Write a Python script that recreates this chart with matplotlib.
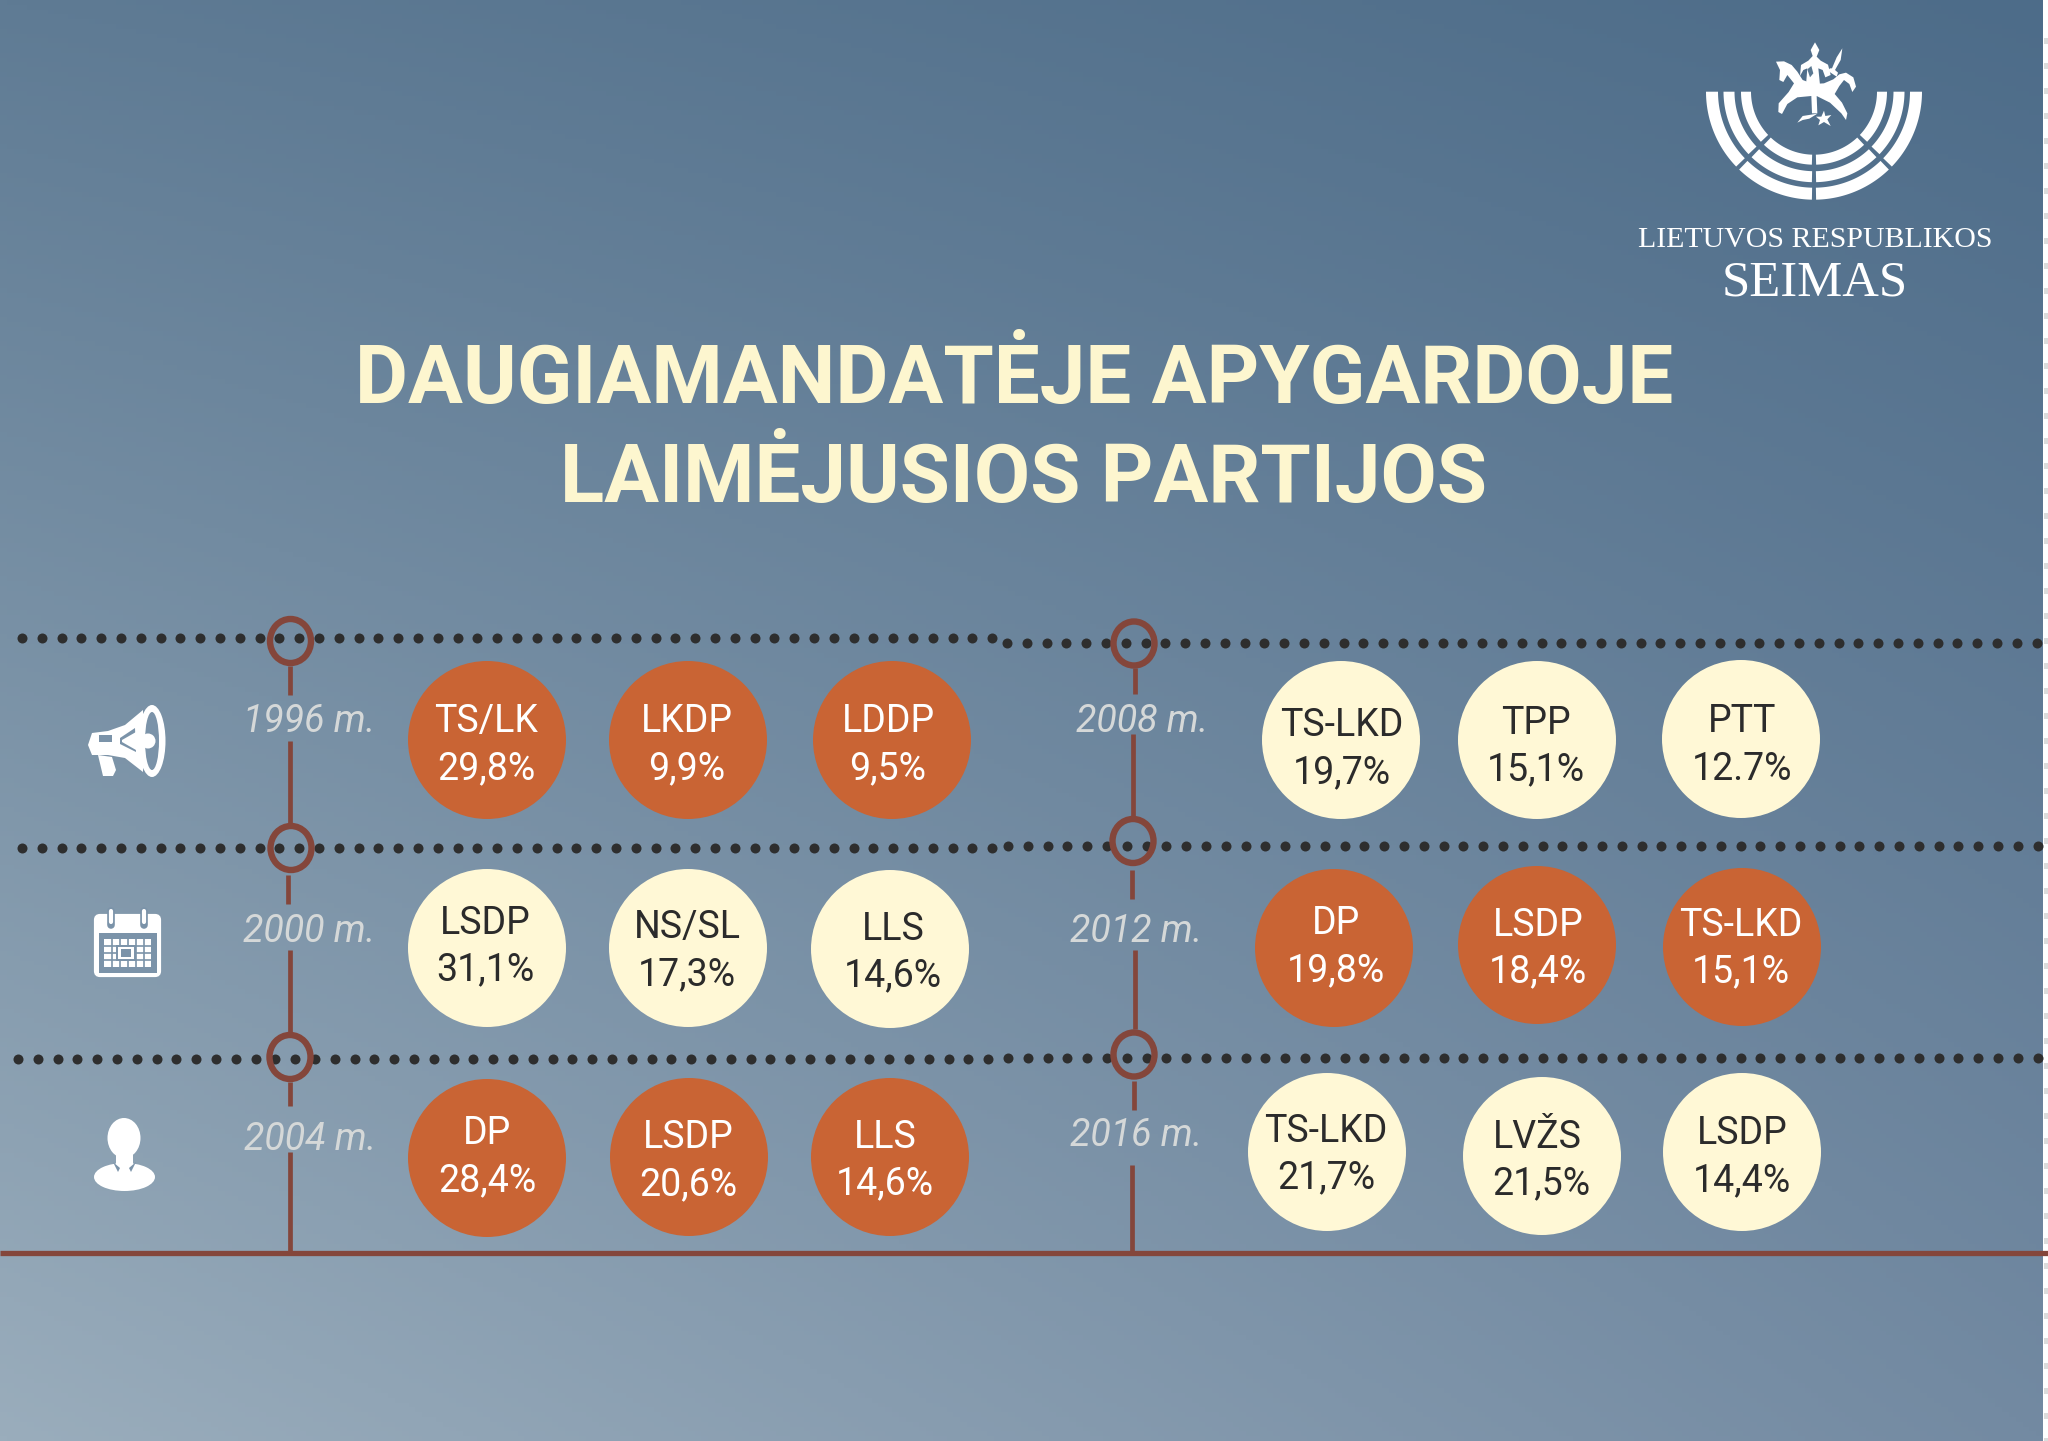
#daugiamandatės apygardos - laimėjusios partijos
import numpy as np
import matplotlib
matplotlib.use('Agg')
import matplotlib.pyplot as plt
from matplotlib.patches import Circle, Ellipse, Polygon, Rectangle, FancyBboxPatch

# duomenys
years = ['1996 m.', '2000 m.', '2004 m.', '2008 m.', '2012 m.', '2016 m.']
parties_1996 = ['TS/LK', 'LKDP', 'LDDP']
parties_2000 = ['LSDP', 'NS/SL', 'LLS']
parties_2004 = ['DP', 'LSDP', 'LLS']
parties_2008 = ['TS-LKD', 'TPP', 'PTT']
parties_2012 = ['DP', 'LSDP', 'TS-LKD']
parties_2016 = ['TS-LKD', 'LVŽS', 'LSDP']
shares_1996 = ['29,8%', '9,9%', '9,5%']
shares_2000 = ['31,1%', '17,3%', '14,6%']
shares_2004 = ['28,4%', '20,6%', '14,6%']
shares_2008 = ['19,7%', '15,1%', '12.7%']
shares_2012 = ['19,8%', '18,4%', '15,1%']
shares_2016 = ['21,7%', '21,5%', '14,4%']

parties = [parties_1996, parties_2000, parties_2004, parties_2008, parties_2012, parties_2016]
shares = [shares_1996, shares_2000, shares_2004, shares_2008, shares_2012, shares_2016]

# išdėstymas (pikseliai)
bubble_x = [[487, 688, 892], [487, 688, 890], [487, 689, 890],
            [1341, 1537, 1741], [1334, 1537, 1742], [1327, 1542, 1742]]
bubble_y = [[740, 740, 740], [948, 948, 949], [1158, 1157, 1157],
            [740, 740, 739], [948, 945, 947], [1152, 1156, 1152]]
label_x = [[486, 687, 888], [485, 687, 893], [487, 688, 885],
           [1342, 1536, 1742], [1336, 1538, 1741], [1326, 1537, 1742]]
share_x = [[486, 687, 888], [485, 687, 893], [487, 688, 885],
           [1342, 1536, 1742], [1336, 1538, 1741], [1326, 1541, 1742]]
label_y = [[722, 722, 722], [923, 928, 929], [1134, 1138, 1137],
           [726, 723, 722], [924, 925, 925], [1131, 1137, 1134]]
year_x = [309, 309, 310, 1142, 1136, 1136]
year_y = [722, 931, 1139, 722, 931, 1136]
fills = ['#c96434', '#fff8d6', '#c96434', '#fff8d6', '#c96434', '#fff8d6']
inks = ['#ffffff', '#2b2b2b', '#ffffff', '#2b2b2b', '#ffffff', '#2b2b2b']

LINE = '#84463b'
DOT = '#2e2e2e'
CREAM = '#fdf6cf'
WHITE = '#ffffff'

plt.rcParams['font.family'] = ['Roboto', 'DejaVu Sans']

fig = plt.figure(figsize=(20.48, 14.41), dpi=100)
ax = fig.add_axes([0, 0, 1, 1])
ax.set_xlim(0, 2048)
ax.set_ylim(1441, 0)
ax.axis('off')

# fonas
u, v = np.meshgrid(np.linspace(0, 1, 300), np.linspace(0, 1, 300))
tl = np.array([0x5f, 0x7b, 0x94]) / 255
tr = np.array([0x4d, 0x6c, 0x89]) / 255
bl = np.array([0x9a, 0xad, 0xbc]) / 255
br = np.array([0x73, 0x8a, 0xa2]) / 255
grad = ((1 - u) * (1 - v))[..., None] * tl + (u * (1 - v))[..., None] * tr \
    + ((1 - u) * v)[..., None] * bl + (u * v)[..., None] * br
ax.imshow(grad, extent=(0, 2043, 1441, 0), aspect='auto', zorder=0)
ax.set_xlim(0, 2048)
ax.set_ylim(1441, 0)
ax.add_patch(Rectangle((2043, 0), 5, 1441, color='white', lw=0, zorder=0))
for y in np.arange(38, 1441, 25):
    ax.add_patch(Rectangle((2044, y), 4, 6, color='#dcdcdc', lw=0, zorder=0))

# taškuotos linijos
dot_lines = [(22, 1000, 638), (1007, 2042, 643), (22, 1000, 848), (1008, 2042, 846),
             (18, 1000, 1059), (1008, 2042, 1058)]
for x0, x1, y in dot_lines:
    xs = np.arange(x0, x1, 19.8)
    ax.plot(xs, [y] * len(xs), ls='', marker='o', ms=7.2, color=DOT, mec='none', zorder=2)

# laiko juosta
segments = [(290, 666, 695), (290, 741, 823), (288, 875, 904), (290, 950, 1032),
            (290, 1082, 1106), (289.5, 1152, 1253),
            (1134.5, 668, 694), (1133.3, 734, 816), (1132.3, 870, 899), (1134.7, 950, 1029),
            (1133.7, 1081, 1110), (1132.3, 1165, 1253)]
for x, y0, y1 in segments:
    ax.plot([x, x], [y0, y1], color=LINE, lw=3.4, solid_capstyle='butt', zorder=3)
ax.plot([0, 2048], [1253, 1253], color=LINE, lw=3.8, solid_capstyle='butt', zorder=3)
rings = [(290.5, 641), (291, 848), (290, 1057), (1134, 643.5), (1133, 841), (1134, 1054.5)]
for x, y in rings:
    ax.add_patch(Ellipse((x, y), 41, 44, fc='none', ec=LINE, lw=4.6, zorder=4))

# burbulai
for i in range(6):
    for k in range(3):
        ax.add_patch(Circle((bubble_x[i][k], bubble_y[i][k]), 79, fc=fills[i], ec='none', zorder=5))
        ax.text(label_x[i][k], label_y[i][k], parties[i][k], color=inks[i], fontsize=27,
                ha='center', va='center', zorder=6)
        ax.text(share_x[i][k], label_y[i][k] + 47, shares[i][k], color=inks[i], fontsize=27,
                ha='center', va='center', zorder=6)
    ax.text(year_x[i], year_y[i], years[i], color='#d5d8d8', fontsize=27, style='italic',
            ha='center', va='center', zorder=6)

# antraštė
ax.text(1014, 381, 'DAUGIAMANDATĖJE APYGARDOJE', color=CREAM, fontsize=58.8, fontweight='bold',
        ha='center', va='center', zorder=6)
ax.text(1023, 480, 'LAIMĖJUSIOS PARTIJOS', color=CREAM, fontsize=58.8, fontweight='bold',
        ha='center', va='center', zorder=6)

# seimo logotipas
def sector(r0, r1, a0, a1):
    t = np.radians(np.linspace(a0, a1, 40))
    x = np.concatenate([r1 * np.cos(t), r0 * np.cos(t[::-1])]) + 1814
    y = np.concatenate([r1 * np.sin(t), r0 * np.sin(t[::-1])]) + 91.7
    ax.add_patch(Polygon(np.column_stack([x, y]), fc=WHITE, ec='none', zorder=6))

for r0, r1 in [(96, 108), (79.5, 90.5), (63, 73)]:
    d = np.degrees(2 / ((r0 + r1) / 2))
    sector(r0, r1, 0, 45 - d)
    sector(r0, r1, 45 + d, 90 - d)
    sector(r0, r1, 90 + d, 135 - d)
    sector(r0, r1, 135 + d, 180)

def emblem(points, color=WHITE, z=6):
    pts = np.array(points, dtype=float) / 3 + [1600, 20]
    ax.add_patch(Polygon(pts, fc=color, ec='none', zorder=z))

# žirgas
emblem([(528, 125), (552, 124), (575, 135), (592, 155), (608, 180), (640, 192), (672, 190),
        (700, 178), (718, 163), (738, 158), (760, 172), (768, 200), (757, 216), (748, 192),
        (732, 180), (718, 198), (704, 222), (726, 248), (742, 280), (738, 300), (724, 280),
        (690, 248), (650, 228), (652, 280), (636, 280), (634, 228), (592, 232), (562, 252),
        (546, 282), (535, 276), (536, 250), (566, 216), (582, 190), (562, 165), (550, 186),
        (538, 180), (540, 150)])
# raitelis
emblem([(645, 67), (658, 90), (650, 110), (662, 122), (684, 134), (692, 165), (676, 172),
        (668, 150), (655, 145), (660, 195), (618, 195), (622, 145), (610, 150), (600, 168),
        (603, 135), (625, 122), (638, 108), (632, 90)])
emblem([(622, 148), (634, 138), (640, 160), (630, 172)], color='#5a7891', z=7)
emblem([(727, 85), (722, 120), (705, 150), (714, 158), (710, 170), (683, 152), (690, 145),
        (696, 145), (710, 112)])
emblem([(592, 308), (608, 288), (652, 281), (628, 296), (608, 300)])
emblem([(672, 272), (676, 288), (694, 285), (682, 298), (692, 318), (672, 306), (655, 316),
        (660, 300), (648, 290), (664, 290)])

ax.text(1815, 240, 'LIETUVOS RESPUBLIKOS', color=WHITE, fontsize=21.5, family='Liberation Serif',
        ha='center', va='center', zorder=6)
ax.text(1815, 283, 'SEIMAS', color=WHITE, fontsize=36.5, family='Liberation Serif',
        ha='center', va='center', zorder=6)

# ikonos: garsiakalbis
BG = '#7b93a9'
ax.add_patch(Polygon([(92, 733), (108, 731), (125, 725), (143, 710), (143, 772), (125, 758),
                      (108, 755), (92, 755), (88, 745)], fc=WHITE, ec='none', joinstyle='round', zorder=6))
ax.add_patch(Polygon([(98, 755), (112, 757), (116, 770), (113, 776), (103, 776)], fc=WHITE, ec='none', zorder=6))
ax.add_patch(Ellipse((152, 741), 27, 72, fc=WHITE, ec='none', zorder=6))
ax.add_patch(Ellipse((152, 741), 14, 58, fc=BG, ec='none', zorder=7))
ax.add_patch(Circle((148, 741), 7.5, fc=WHITE, ec='none', zorder=8))
ax.add_patch(Rectangle((99, 735), 13, 7, fc=BG, ec='none', zorder=7))
ax.add_patch(Polygon([(120, 738), (135, 728), (136, 752), (120, 744)], fc=BG, ec='none', zorder=7))
ax.add_patch(Polygon([(122, 740), (136, 732), (136, 750), (122, 742)], fc=WHITE, ec='none', zorder=8))

# kalendorius
ax.add_patch(FancyBboxPatch((96, 916), 63, 59, boxstyle='round,pad=0,rounding_size=4',
                            fc=WHITE, ec=WHITE, lw=3, zorder=6))
for x in [111, 143.5]:
    ax.plot([x, x], [911, 925], color=BG, lw=5.5, solid_capstyle='round', zorder=7)
    ax.plot([x, x], [911, 922], color=WHITE, lw=3, solid_capstyle='round', zorder=8)
ax.add_patch(Rectangle((99, 933), 58, 40, fc=BG, ec='none', zorder=7))
ax.add_patch(Rectangle((104, 939), 47, 28, fc=WHITE, ec='none', zorder=8))
for x in [112, 120, 128, 136, 144]:
    ax.plot([x, x], [939, 967], color=BG, lw=1.2, zorder=9)
for y in [946, 953, 960]:
    ax.plot([104, 151], [y, y], color=BG, lw=1.2, zorder=9)
ax.add_patch(Rectangle((117, 946), 18, 14, fc=WHITE, ec=BG, lw=1.4, zorder=10))
ax.add_patch(Rectangle((121, 949), 10, 8, fc=BG, ec='none', zorder=11))

# žmogus
ax.add_patch(Ellipse((124, 1138), 33, 40, fc=WHITE, ec='none', zorder=6))
ax.add_patch(Rectangle((116, 1150), 17, 15, fc=WHITE, ec='none', zorder=6))
ax.add_patch(Ellipse((124.5, 1177), 61, 28, fc=WHITE, ec='none', zorder=6))
ax.add_patch(Polygon([(113, 1162), (120, 1168), (118, 1172)], fc=BG, ec='none', zorder=7))
ax.add_patch(Polygon([(136, 1162), (129, 1168), (131, 1172)], fc=BG, ec='none', zorder=7))

plt.savefig('out.png', dpi=100)
